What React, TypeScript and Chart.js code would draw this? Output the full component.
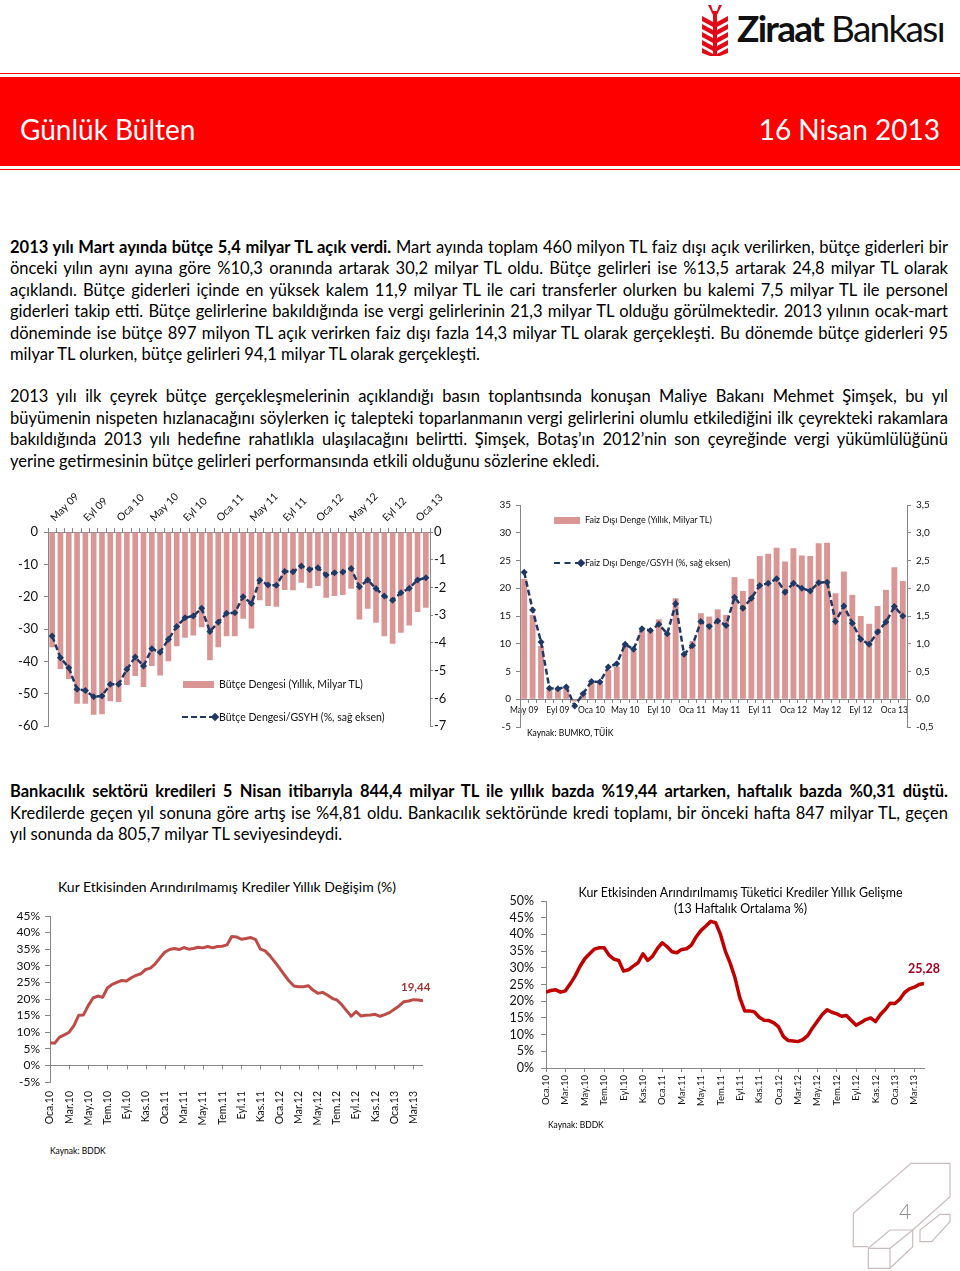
import React, { useEffect, useRef } from 'react';
import { Chart, registerables } from 'chart.js';

Chart.register(...registerables);

const FONT = 'Lato, "Noto Sans", sans-serif';
const AXIS = '#868686';
const BAR = '#D99694';
const NAVY = '#1F3864';
const INK = '#111';

// ---------- Top charts: monthly, May 09 – Şub 13 ----------
const budgetMonths = [
  'May 09', 'Haz 09', 'Tem 09', 'Ağu 09', 'Eyl 09', 'Eki 09', 'Kas 09', 'Ara 09',
  'Oca 10', 'Şub 10', 'Mar 10', 'Nis 10', 'May 10', 'Haz 10', 'Tem 10', 'Ağu 10', 'Eyl 10', 'Eki 10', 'Kas 10', 'Ara 10',
  'Oca 11', 'Şub 11', 'Mar 11', 'Nis 11', 'May 11', 'Haz 11', 'Tem 11', 'Ağu 11', 'Eyl 11', 'Eki 11', 'Kas 11', 'Ara 11',
  'Oca 12', 'Şub 12', 'Mar 12', 'Nis 12', 'May 12', 'Haz 12', 'Tem 12', 'Ağu 12', 'Eyl 12', 'Eki 12', 'Kas 12', 'Ara 12',
  'Oca 13', 'Şub 13',
];
const monthLabelEvery = 4;

// Bütçe Dengesi (Yıllık, Milyar TL)
const budgetBalance = [
  -35.6, -42.3, -45.4, -53.1, -53.1, -56.5, -56.3, -52.3, -52.5, -47.3,
  -44.5, -47.9, -41.4, -44.3, -39.9, -35.3, -32.7, -32.0, -29.4, -39.6,
  -35.6, -32.2, -32.2, -26.8, -29.8, -21.1, -22.9, -23.1, -17.9, -18.0,
  -15.7, -17.4, -16.7, -20.3, -19.8, -19.5, -17.5, -27.0, -23.7, -28.0,
  -32.2, -34.5, -31.1, -28.9, -24.7, -23.4,
];
// Bütçe Dengesi/GSYH (%, sağ eksen)
const budgetGdp = [
  -3.75, -4.53, -4.89, -5.67, -5.71, -5.94, -5.91, -5.49, -5.49, -4.95,
  -4.51, -4.83, -4.21, -4.33, -3.87, -3.41, -3.09, -3.03, -2.75, -3.59,
  -3.25, -2.93, -2.91, -2.33, -2.58, -1.74, -1.91, -1.92, -1.42, -1.43,
  -1.23, -1.35, -1.29, -1.55, -1.47, -1.44, -1.32, -1.97, -1.73, -2.04,
  -2.31, -2.46, -2.19, -2.03, -1.73, -1.65,
];
// Faiz Dışı Denge (Yıllık, Milyar TL)
const primaryBalance = [
  21.7, 15.2, 9.6, 2.0, 1.9, 2.2, -0.4, 1.2, 3.0, 2.9,
  5.3, 5.9, 10.1, 8.8, 12.6, 12.3, 14.4, 11.8, 18.2, 8.1,
  10.5, 15.5, 14.9, 16.2, 15.2, 22.0, 19.5, 21.7, 25.8, 26.2,
  27.3, 24.8, 27.2, 25.9, 25.8, 28.1, 28.2, 19.1, 23.0, 18.8,
  15.0, 13.6, 16.8, 19.7, 23.8, 21.3,
];
// Faiz Dışı Denge/GSYH (%, sağ eksen)
const primaryGdp = [
  2.29, 1.61, 1.03, 0.20, 0.19, 0.22, -0.12, 0.10, 0.32, 0.31,
  0.58, 0.64, 0.99, 0.90, 1.27, 1.24, 1.35, 1.18, 1.72, 0.81,
  0.97, 1.40, 1.31, 1.41, 1.33, 1.84, 1.64, 1.82, 2.05, 2.09,
  2.17, 1.93, 2.09, 2.00, 1.95, 2.10, 2.11, 1.40, 1.68, 1.37,
  1.08, 0.99, 1.21, 1.39, 1.67, 1.50,
];

// ---------- Bottom charts: semi-monthly observations from Oca.10 ----------
const creditTickLabels = [
  'Oca.10', 'Mar.10', 'May.10', 'Tem.10', 'Eyl.10', 'Kas.10',
  'Oca.11', 'Mar.11', 'May.11', 'Tem.11', 'Eyl.11', 'Kas.11',
  'Oca.12', 'Mar.12', 'May.12', 'Tem.12', 'Eyl.12', 'Kas.12',
  'Oca.13', 'Mar.13',
];
const obsPerMonth = 2;
const monthsPerTick = 2;
const creditAxisMonths = 39;

// Kur Etkisinden Arındırılmamış Krediler Yıllık Değişim (%)
const creditGrowth = [
  6.8, 6.7, 8.5, 9.2, 10.0, 12.0, 15.1, 15.2, 18.0, 20.3,
  20.9, 20.5, 23.3, 24.4, 25.0, 25.6, 25.4, 26.4, 27.1, 27.6,
  28.9, 29.3, 30.6, 32.4, 34.1, 34.9, 35.2, 34.9, 35.5, 35.0,
  35.2, 35.6, 35.4, 35.8, 35.4, 35.8, 35.9, 36.3, 38.8, 38.7,
  38.0, 38.2, 38.5, 37.9, 35.0, 34.5, 33.0, 31.2, 29.3, 27.3,
  25.4, 23.9, 23.7, 23.7, 24.0, 22.7, 21.7, 22.0, 21.2, 20.2,
  19.7, 18.3, 16.5, 14.8, 16.2, 14.9, 15.1, 15.2, 15.4, 14.8,
  15.3, 15.9, 16.9, 17.9, 19.2, 19.4, 19.8, 19.7, 19.44,
];
// Kur Etkisinden Arındırılmamış Tüketici Krediler Yıllık Gelişme (13 Haftalık Ortalama %)
const consumerGrowth = [
  22.7, 23.2, 23.4, 22.7, 23.1, 25.2, 27.5, 30.4, 32.7, 34.2,
  35.6, 36.0, 36.0, 33.8, 32.6, 32.2, 29.0, 29.4, 30.5, 31.5,
  34.2, 32.2, 33.5, 35.8, 37.5, 36.3, 34.8, 34.5, 35.5, 35.7,
  36.8, 39.3, 41.2, 42.5, 43.9, 43.5, 40.0, 35.0, 31.4, 27.0,
  21.0, 17.1, 17.1, 16.8, 15.2, 14.3, 14.2, 13.5, 12.3, 9.4,
  8.2, 8.1, 7.9, 8.5, 9.7, 12.0, 14.0, 16.0, 17.4, 16.7,
  16.2, 15.5, 15.7, 14.2, 12.8, 13.6, 14.5, 15.0, 13.9, 16.0,
  17.5, 19.4, 19.3, 20.6, 22.6, 23.7, 24.2, 25.0, 25.28,
];

const commaFmt = (v: number, d: number) => v.toFixed(d).replace('.', ',');

function tickFont(size: number) {
  return { family: FONT, size };
}

const baseOptions = {
  responsive: false,
  animation: false,
  devicePixelRatio: 1,
  plugins: { legend: { display: false }, tooltip: { enabled: false }, title: { display: false } },
};

function budgetConfig(): any {
  return {
    type: 'bar',
    data: {
      labels: budgetMonths,
      datasets: [
        {
          type: 'line', data: budgetGdp, yAxisID: 'y1', order: 0,
          borderColor: NAVY, backgroundColor: NAVY, borderWidth: 2.5, borderDash: [6, 3],
          pointStyle: 'rectRot', pointRadius: 3.5, pointBackgroundColor: NAVY, pointBorderColor: NAVY, pointBorderWidth: 0,
        },
        {
          type: 'bar', data: budgetBalance, yAxisID: 'y', order: 1,
          backgroundColor: BAR, categoryPercentage: 0.68, barPercentage: 1,
        },
      ],
    },
    options: {
      ...baseOptions,
      layout: { padding: { left: 0, right: 0, top: 0, bottom: 13 } },
      scales: {
        x: {
          position: 'top',
          grid: { drawOnChartArea: false, color: AXIS, tickLength: 4 },
          border: { color: AXIS },
          ticks: {
            autoSkip: false, minRotation: 45, maxRotation: 45, padding: 4, labelOffset: 9, color: INK, font: tickFont(10.5),
            callback: (_v: any, i: number) => (i % monthLabelEvery === 0 ? budgetMonths[i] : ''),
          },
          afterFit: (s: any) => { s.height = 42; },
        },
        y: {
          position: 'left', min: -60, max: 0,
          grid: { drawOnChartArea: false, color: AXIS, tickLength: 4 },
          border: { color: AXIS },
          ticks: { stepSize: 10, autoSkip: false, padding: 6, color: INK, font: tickFont(13) },
          afterFit: (s: any) => { s.width = 48; },
        },
        y1: {
          position: 'right', min: -7, max: 0,
          grid: { drawOnChartArea: false, color: AXIS, tickLength: 3 },
          border: { color: AXIS },
          ticks: { stepSize: 1, autoSkip: false, padding: 1, color: INK, font: tickFont(13) },
          afterFit: (s: any) => { s.width = 40; },
        },
      },
    },
  };
}

function primaryConfig(): any {
  return {
    type: 'bar',
    data: {
      labels: budgetMonths,
      datasets: [
        {
          type: 'line', data: primaryGdp, yAxisID: 'y1', order: 0,
          borderColor: NAVY, backgroundColor: NAVY, borderWidth: 2.5, borderDash: [6, 3],
          pointStyle: 'rectRot', pointRadius: 3.5, pointBackgroundColor: NAVY, pointBorderColor: NAVY, pointBorderWidth: 0,
        },
        {
          type: 'bar', data: primaryBalance, yAxisID: 'y', order: 1,
          backgroundColor: BAR, categoryPercentage: 0.7, barPercentage: 1,
        },
      ],
    },
    options: {
      ...baseOptions,
      layout: { padding: { left: 0, right: 0, top: 15, bottom: 23 } },
      scales: {
        x: {
          position: { y: 0 },
          grid: { drawOnChartArea: false, color: AXIS, tickLength: 3 },
          border: { color: AXIS },
          ticks: {
            autoSkip: false, maxRotation: 0, minRotation: 0, padding: 3, color: INK, font: tickFont(8.5),
            callback: (_v: any, i: number) => (i % monthLabelEvery === 0 ? budgetMonths[i] : ''),
          },
        },
        y: {
          position: 'left', min: -5, max: 35,
          grid: { drawOnChartArea: false, color: AXIS, tickLength: 4 },
          border: { color: AXIS },
          ticks: { stepSize: 5, autoSkip: false, padding: 5, color: INK, font: tickFont(10) },
          afterFit: (s: any) => { s.width = 40; },
        },
        y1: {
          position: 'right', min: -0.5, max: 3.5,
          grid: { drawOnChartArea: false, color: AXIS, tickLength: 4 },
          border: { color: AXIS },
          ticks: { stepSize: 0.5, autoSkip: false, padding: 5, color: INK, font: tickFont(10), callback: (v: any) => commaFmt(Number(v), 1) },
          afterFit: (s: any) => { s.width = 43; },
        },
      },
    },
  };
}

const zeroLineTicks = {
  id: 'zeroLineTicks',
  afterDraw(chart: any) {
    const { ctx, scales } = chart;
    const x = scales.x;
    const y = scales.y;
    const y0 = y.getPixelForValue(0);
    ctx.save();
    ctx.strokeStyle = AXIS;
    ctx.lineWidth = 1;
    x.ticks.forEach((t: any) => {
      const px = Math.round(x.getPixelForValue(t.value)) + 0.5;
      ctx.beginPath();
      ctx.moveTo(px, y0);
      ctx.lineTo(px, y0 + 4);
      ctx.stroke();
    });
    ctx.restore();
  },
};

function creditConfig(): any {
  return {
    type: 'line',
    data: {
      datasets: [{
        data: creditGrowth.map((v, i) => ({ x: i / obsPerMonth, y: v })),
        borderColor: '#BE4B48', borderWidth: 3, pointRadius: 0, tension: 0, borderJoinStyle: 'round',
      }],
    },
    options: {
      ...baseOptions,
      layout: { padding: { left: 0, right: 37, top: 41, bottom: 0 } },
      scales: {
        x: {
          type: 'linear', min: 0, max: creditAxisMonths,
          grid: { display: false, drawTicks: false },
          border: { display: false },
          ticks: {
            stepSize: monthsPerTick, includeBounds: false, autoSkip: false, minRotation: 90, maxRotation: 90,
            padding: 9, color: INK, font: tickFont(10.5),
            callback: (v: any) => creditTickLabels[Math.round(Number(v) / monthsPerTick)] ?? '',
          },
          afterFit: (s: any) => { s.height = 53; },
        },
        y: {
          min: -5, max: 45,
          grid: {
            color: (c: any) => (c.tick && c.tick.value === 0 ? AXIS : 'rgba(0,0,0,0)'),
            tickColor: AXIS, tickLength: 5,
          },
          border: { color: AXIS },
          ticks: { stepSize: 5, autoSkip: false, padding: 5, color: INK, font: tickFont(12), callback: (v: any) => `${v}%` },
          afterFit: (s: any) => { s.width = 50; },
        },
      },
    },
    plugins: [zeroLineTicks],
  };
}

function consumerConfig(): any {
  return {
    type: 'line',
    data: {
      datasets: [{
        data: consumerGrowth.map((v, i) => ({ x: i / obsPerMonth, y: v })),
        borderColor: '#C00000', borderWidth: 3.5, pointRadius: 0, tension: 0, borderJoinStyle: 'round',
      }],
    },
    options: {
      ...baseOptions,
      layout: { padding: { left: 0, right: 26, top: 21, bottom: 0 } },
      scales: {
        x: {
          type: 'linear', min: 0, max: creditAxisMonths,
          grid: { drawOnChartArea: false, color: AXIS, tickLength: 4 },
          border: { color: AXIS },
          ticks: {
            stepSize: monthsPerTick, includeBounds: false, autoSkip: false, minRotation: 90, maxRotation: 90,
            padding: 3, color: INK, font: tickFont(9.5),
            callback: (v: any) => creditTickLabels[Math.round(Number(v) / monthsPerTick)] ?? '',
          },
          afterFit: (s: any) => { s.height = 72; },
        },
        y: {
          min: 0, max: 50,
          grid: { drawOnChartArea: false, color: AXIS, tickLength: 5 },
          border: { color: AXIS },
          ticks: { stepSize: 5, autoSkip: false, padding: 7, color: INK, font: tickFont(12.5), callback: (v: any) => `${v}%` },
          afterFit: (s: any) => { s.width = 56; },
        },
      },
    },
  };
}

function ChartBox(props: { left: number; top: number; width: number; height: number; make: () => any }) {
  const ref = useRef<HTMLCanvasElement>(null);
  useEffect(() => {
    const chart = new Chart(ref.current as HTMLCanvasElement, props.make());
    return () => chart.destroy();
  }, []);
  const { left, top, width, height } = props;
  return (
    <div style={{ position: 'absolute', left, top, width, height }}>
      <canvas ref={ref} width={width} height={height} style={{ width, height, display: 'block' }} />
    </div>
  );
}

const abs = (left: number, top: number, extra: React.CSSProperties = {}): React.CSSProperties => ({
  position: 'absolute', left, top, ...extra,
});

function TextLine(props: { top: number; left?: number; width?: number; last?: boolean; children: React.ReactNode }) {
  const { top, left = 10, width = 938, last = false } = props;
  return (
    <div
      style={{
        position: 'absolute', top, left, width, height: 21.5, lineHeight: '21.5px',
        fontSize: 16.5, fontFamily: FONT, color: '#000',
        textAlign: last ? 'left' : 'justify', textAlignLast: last ? 'left' : 'justify',
      } as React.CSSProperties}
    >
      {props.children}
    </div>
  );
}

function LegendBar(props: { left: number; top: number; text: string; size: number; textLeft: number }) {
  return (
    <>
      <div style={abs(props.left, props.top - 3, { width: props.textLeft - props.left - 5, height: 7, background: BAR })} />
      <div style={abs(props.textLeft, props.top - 8, { fontFamily: FONT, fontSize: props.size, lineHeight: '16px', whiteSpace: 'nowrap', color: INK })}>{props.text}</div>
    </>
  );
}

function LegendLine(props: { left: number; top: number; text: string; size: number; textLeft: number }) {
  const w = props.textLeft - props.left - 4;
  return (
    <>
      <div style={abs(props.left, props.top - 1, { width: w, height: 0, borderTop: `2.5px dashed ${NAVY}` })} />
      <div style={abs(props.left + w - 3, props.top - 3.5, { width: 6, height: 6, background: NAVY, transform: 'rotate(45deg)' })} />
      <div style={abs(props.textLeft, props.top - 8, { fontFamily: FONT, fontSize: props.size, lineHeight: '16px', whiteSpace: 'nowrap', color: INK })}>{props.text}</div>
    </>
  );
}

function Logo() {
  const leaves = [12, 20, 28, 36];
  return (
    <>
      <svg style={abs(701, 4)} width={28} height={52} viewBox="0 0 28 52">
        <g fill="#E30A17">
          <rect x={12} y={7} width={4} height={45} />
          <polygon points="7,1 10,1 12,7 12,11" />
          <polygon points="21,1 18,1 16,7 16,11" />
          {leaves.map((y) => (
            <polygon key={'l' + y} points={`12,${y + 6} 1,${y} 1,${y + 5} 12,${y + 11}`} />
          ))}
          {leaves.map((y) => (
            <polygon key={'r' + y} points={`16,${y + 6} 27,${y} 27,${y + 5} 16,${y + 11}`} />
          ))}
          <polygon points="12,50 1,44 1,49 9,52 12,52" />
          <polygon points="16,50 27,44 27,49 19,52 16,52" />
        </g>
      </svg>
      <div style={abs(737, 9, { fontFamily: FONT, fontSize: 37, lineHeight: '37px', color: '#111', letterSpacing: -1.7, whiteSpace: 'nowrap' })}>
        <span style={{ fontWeight: 700 }}>Ziraat</span>
        <span style={{ fontWeight: 400 }}> Bankası</span>
      </div>
    </>
  );
}

function FooterMark() {
  return (
    <>
      <svg style={abs(840, 1150)} width={120} height={121} viewBox="0 0 120 121">
        <g fill="none" stroke="#C9BCBC" strokeWidth={1.2}>
          <polyline points="28,96.7 13.3,96.7 13.3,63.3 71,13.3 110,13.3 110,46.7 72.7,80" />
          <polygon points="28.3,98.3 50,80 72.7,80 72.7,96.7 50,118.3 28.3,118.3" />
          <polyline points="28.3,98.3 50,98.3 72.7,80" />
          <line x1={50} y1={98.3} x2={50} y2={118.3} />
          <polygon points="80,80 100,64.3 110,64.3 110,71.7 91.7,91.7 80,91.7" />
        </g>
      </svg>
      <div style={abs(899, 1199, { fontFamily: FONT, fontSize: 21, fontWeight: 300, color: '#8a8a8a', lineHeight: '24px' })}>4</div>
    </>
  );
}

export default function App() {
  const small = { fontFamily: FONT, color: '#000', whiteSpace: 'nowrap' as const };
  return (
    <div style={{ position: 'absolute', left: 0, top: 0, width: 960, height: 1271, background: '#fff', overflow: 'hidden' }}>
      <Logo />
      {/* Red header band */}
      <div style={abs(0, 73, { width: 960, height: 1, background: '#FF0000' })} />
      <div style={abs(0, 77, { width: 960, height: 89, background: '#FF0000' })} />
      <div style={abs(0, 169, { width: 960, height: 1, background: '#FF0000' })} />
      <div style={abs(20, 115, { fontFamily: FONT, fontSize: 28, lineHeight: '28px', color: '#fff', whiteSpace: 'nowrap' })}>Günlük Bülten</div>
      <div style={abs(640, 115, { width: 300, textAlign: 'right', fontFamily: FONT, fontSize: 28, lineHeight: '28px', color: '#fff', whiteSpace: 'nowrap' })}>16 Nisan 2013</div>

      {/* Paragraph 1 */}
      <TextLine top={236.5}><b>2013 yılı Mart ayında bütçe 5,4 milyar TL açık verdi.</b> Mart ayında toplam 460 milyon TL faiz dışı açık verilirken, bütçe giderleri bir</TextLine>
      <TextLine top={258}>önceki yılın aynı ayına göre %10,3 oranında artarak 30,2 milyar TL oldu. Bütçe gelirleri ise %13,5 artarak 24,8 milyar TL olarak</TextLine>
      <TextLine top={279.5}>açıklandı. Bütçe giderleri içinde en yüksek kalem 11,9 milyar TL ile cari transferler olurken bu kalemi 7,5 milyar TL ile personel</TextLine>
      <TextLine top={301}>giderleri takip etti. Bütçe gelirlerine bakıldığında ise vergi gelirlerinin 21,3 milyar TL olduğu görülmektedir. 2013 yılının ocak-mart</TextLine>
      <TextLine top={322.5}>döneminde ise bütçe 897 milyon TL açık verirken faiz dışı fazla 14,3 milyar TL olarak gerçekleşti. Bu dönemde bütçe giderleri 95</TextLine>
      <TextLine top={344} last>milyar TL olurken, bütçe gelirleri 94,1 milyar TL olarak gerçekleşti.</TextLine>

      {/* Paragraph 2 */}
      <TextLine top={386}>2013 yılı ilk çeyrek bütçe gerçekleşmelerinin açıklandığı basın toplantısında konuşan Maliye Bakanı Mehmet Şimşek, bu yıl</TextLine>
      <TextLine top={407.5}>büyümenin nispeten hızlanacağını söylerken iç talepteki toparlanmanın vergi gelirlerini olumlu etkilediğini ilk çeyrekteki rakamlara</TextLine>
      <TextLine top={429}>bakıldığında 2013 yılı hedefine rahatlıkla ulaşılacağını belirtti. Şimşek, Botaş’ın 2012’nin son çeyreğinde vergi yükümlülüğünü</TextLine>
      <TextLine top={450.5} last>yerine getirmesinin bütçe gelirleri performansında etkili olduğunu sözlerine ekledi.</TextLine>

      {/* Chart 1: Bütçe dengesi */}
      <ChartBox left={0} top={490} width={470} height={250} make={budgetConfig} />
      <LegendBar left={183} top={684} textLeft={219} size={10.5} text="Bütçe Dengesi (Yıllık, Milyar TL)" />
      <LegendLine left={182} top={717} textLeft={219} size={10.5} text="Bütçe Dengesi/GSYH (%, sağ eksen)" />

      {/* Chart 2: Faiz dışı denge */}
      <ChartBox left={480} top={490} width={470} height={260} make={primaryConfig} />
      <LegendBar left={554} top={520} textLeft={585} size={9} text="Faiz Dışı Denge (Yıllık, Milyar TL)" />
      <LegendLine left={554} top={563} textLeft={585} size={9} text="Faiz Dışı Denge/GSYH (%, sağ eksen)" />
      <div style={abs(527, 727, { ...small, fontSize: 8.5, lineHeight: '12px' })}>Kaynak: BUMKO, TÜİK</div>

      {/* Paragraph 3 */}
      <TextLine top={781}><b>Bankacılık sektörü kredileri 5 Nisan itibarıyla 844,4 milyar TL ile yıllık bazda %19,44 artarken, haftalık bazda %0,31 düştü.</b></TextLine>
      <TextLine top={802.5}>Kredilerde geçen yıl sonuna göre artış ise %4,81 oldu. Bankacılık sektöründe kredi toplamı, bir önceki hafta 847 milyar TL, geçen</TextLine>
      <TextLine top={824} last>yıl sonunda da 805,7 milyar TL seviyesindeydi.</TextLine>

      {/* Chart 3 */}
      <div style={abs(0, 879, { width: 454, textAlign: 'center', ...small, fontSize: 14, lineHeight: '16px' })}>Kur Etkisinden Arındırılmamış Krediler Yıllık Değişim (%)</div>
      <ChartBox left={0} top={875} width={460} height={260} make={creditConfig} />
      <div style={abs(401, 979, { fontFamily: FONT, fontSize: 11.5, fontWeight: 700, color: '#953735', lineHeight: '16px' })}>19,44</div>
      <div style={abs(50, 1145, { ...small, fontSize: 8.5, lineHeight: '12px' })}>Kaynak: BDDK</div>

      {/* Chart 4 */}
      <ChartBox left={490} top={880} width={460} height={260} make={consumerConfig} />
      <div style={abs(540, 885, { width: 401, textAlign: 'center', ...small, fontSize: 12.4, lineHeight: '16px' })}>
        Kur Etkisinden Arındırılmamış Tüketici Krediler Yıllık Gelişme<br />(13 Haftalık Ortalama %)
      </div>
      <div style={abs(908, 961, { fontFamily: FONT, fontSize: 12.5, fontWeight: 700, color: '#A50021', lineHeight: '16px' })}>25,28</div>
      <div style={abs(548, 1119, { ...small, fontSize: 8.5, lineHeight: '12px' })}>Kaynak: BDDK</div>

      <FooterMark />
    </div>
  );
}
